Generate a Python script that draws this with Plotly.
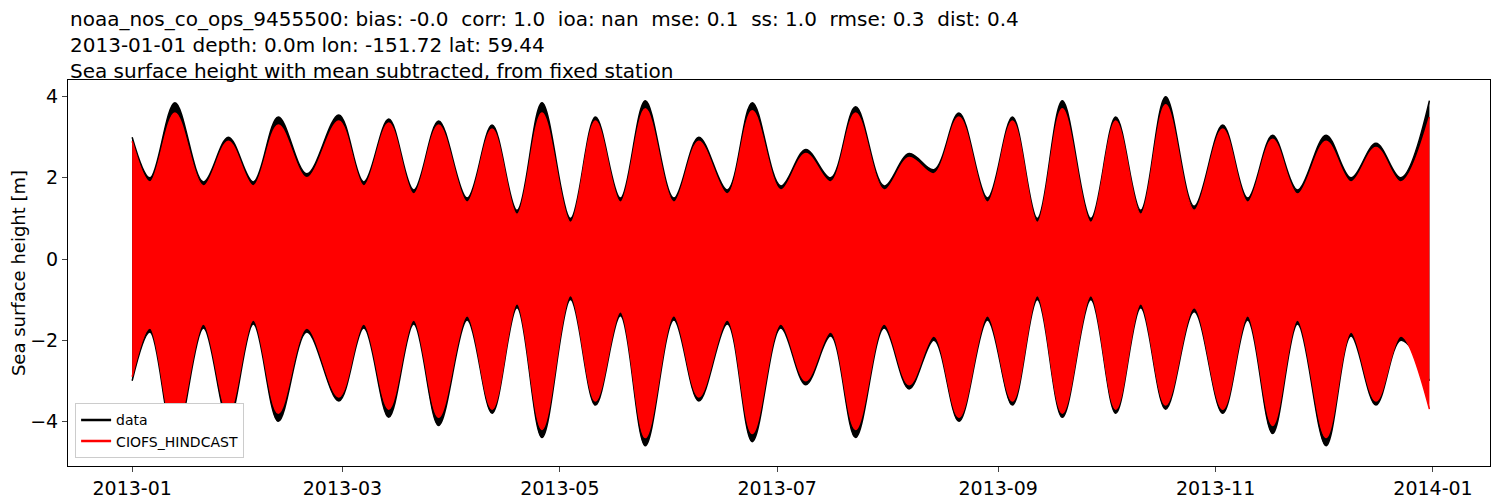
import plotly.graph_objects as go

dates = ["2013-01-01","2013-01-06","2013-01-13","2013-01-21","2013-01-28","2013-02-04","2013-02-11","2013-02-19","2013-02-28","2013-03-07","2013-03-14","2013-03-21","2013-03-28","2013-04-05","2013-04-12","2013-04-19","2013-04-26","2013-05-04","2013-05-11","2013-05-18","2013-05-25","2013-06-02","2013-06-09","2013-06-17","2013-06-24","2013-07-02","2013-07-09","2013-07-16","2013-07-23","2013-07-31","2013-08-07","2013-08-14","2013-08-21","2013-08-29","2013-09-05","2013-09-12","2013-09-19","2013-09-27","2013-10-04","2013-10-11","2013-10-18","2013-10-26","2013-11-03","2013-11-10","2013-11-17","2013-11-24","2013-12-02","2013-12-09","2013-12-16","2013-12-23","2013-12-31"]
upper_data = [3.0,2.0,3.85,1.9,3.0,1.9,3.5,2.1,3.55,1.9,3.45,1.7,3.4,1.5,3.3,1.2,3.85,1.0,3.5,1.5,3.9,1.5,3.0,1.7,3.85,1.8,2.7,2.0,3.75,1.8,2.6,2.2,3.6,1.5,3.5,1.0,3.9,1.0,3.5,1.2,4.0,1.3,3.3,1.5,3.05,1.7,3.05,2.0,2.85,2.0,3.9]
lower_data = [-3.0,-1.8,-4.5,-1.7,-4.0,-1.6,-4.0,-1.8,-3.5,-1.7,-3.9,-1.6,-4.1,-1.5,-3.8,-1.2,-4.4,-1.0,-3.6,-1.4,-4.6,-1.5,-3.5,-1.6,-4.5,-1.7,-3.1,-1.9,-4.4,-1.7,-3.2,-2.0,-4.0,-1.5,-3.6,-1.0,-3.9,-1.0,-3.8,-1.2,-3.7,-1.3,-3.8,-1.5,-4.3,-1.6,-4.6,-1.9,-3.6,-2.0,-3.0]
upper_model = [2.9,1.9,3.6,1.8,2.9,1.8,3.3,2.0,3.4,1.8,3.35,1.6,3.3,1.4,3.2,1.1,3.6,0.9,3.4,1.4,3.7,1.4,2.9,1.6,3.65,1.7,2.6,1.9,3.6,1.7,2.5,2.1,3.5,1.4,3.4,0.9,3.7,0.9,3.4,1.1,3.8,1.2,3.2,1.4,2.95,1.6,2.9,1.9,2.75,1.9,3.5]
lower_model = [-2.9,-1.7,-4.3,-1.6,-3.8,-1.5,-3.8,-1.7,-3.4,-1.6,-3.7,-1.5,-3.9,-1.4,-3.7,-1.1,-4.2,-0.9,-3.5,-1.3,-4.4,-1.4,-3.4,-1.5,-4.3,-1.6,-3.0,-1.8,-4.2,-1.6,-3.1,-1.9,-3.9,-1.4,-3.5,-0.9,-3.8,-0.9,-3.7,-1.1,-3.6,-1.2,-3.7,-1.4,-4.1,-1.5,-4.4,-1.8,-3.5,-1.9,-3.7]
tick_vals = ["2013-01-01","2013-03-01","2013-05-01","2013-07-01","2013-09-01","2013-11-01","2014-01-01"]
tick_text = ["2013-01","2013-03","2013-05","2013-07","2013-09","2013-11","2014-01"]
title_lines = ["noaa_nos_co_ops_9455500: bias: -0.0  corr: 1.0  ioa: nan  mse: 0.1  ss: 1.0  rmse: 0.3  dist: 0.4",
               "2013-01-01 depth: 0.0m lon: -151.72 lat: 59.44",
               "Sea surface height with mean subtracted, from fixed station"]

fig = go.Figure()
for up, lo, col in [(upper_data, lower_data, "black"), (upper_model, lower_model, "red")]:
    fig.add_trace(go.Scatter(x=dates, y=up, mode="lines", line=dict(color=col, width=1.5, shape="spline"),
                             showlegend=False, hoverinfo="skip"))
    fig.add_trace(go.Scatter(x=dates, y=lo, mode="lines", line=dict(color=col, width=1.5, shape="spline"),
                             fill="tonexty", fillcolor=col, showlegend=False, hoverinfo="skip"))
fig.add_trace(go.Scatter(x=[None], y=[None], mode="lines", line=dict(color="black", width=2.5), name="data"))
fig.add_trace(go.Scatter(x=[None], y=[None], mode="lines", line=dict(color="red", width=2.5), name="CIOFS_HINDCAST"))

fig.add_annotation(text="<br>".join(title_lines), xref="paper", yref="paper", x=0, y=1, xanchor="left",
                   yanchor="bottom", align="left", showarrow=False, yshift=-5, font=dict(size=20))

fig.update_layout(
    width=1500, height=500, plot_bgcolor="white", paper_bgcolor="white",
    margin=dict(l=60, r=18, t=72, b=42, autoexpand=False),
    font=dict(family="DejaVu Sans", size=16, color="black"),
    legend=dict(x=0.005, y=0.02, xanchor="left", yanchor="bottom", bordercolor="#cccccc", borderwidth=1,
                font=dict(size=14), bgcolor="white", traceorder="normal"),
    xaxis=dict(range=["2012-12-14", "2014-01-17"], tickvals=tick_vals, ticktext=tick_text, showgrid=False,
               showline=True, mirror=True, linecolor="black", ticks="outside", tickfont=dict(size=19)),
    yaxis=dict(range=[-5.1, 4.41], tickvals=[-4, -2, 0, 2, 4], showgrid=False, zeroline=False,
               showline=True, mirror=True, linecolor="black", ticks="outside", tickfont=dict(size=19),
               title=dict(text="Sea surface height [m]", font=dict(size=18), standoff=6)),
)
fig.write_html("out.html")
